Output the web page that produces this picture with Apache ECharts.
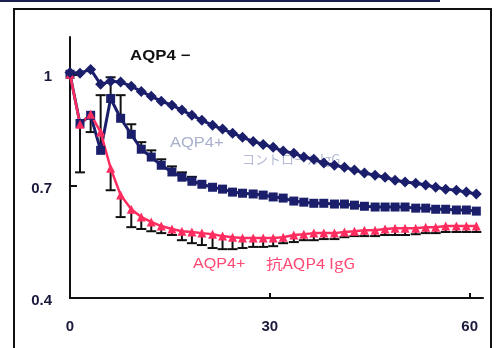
<!DOCTYPE html>
<html>
<head>
<meta charset="utf-8">
<script src="https://cdn.jsdelivr.net/npm/echarts@6/dist/echarts.min.js"></script>
<style>
  html, body { margin: 0; padding: 0; background: #fff; }
  #chart { width: 499px; height: 348px; }
</style>
</head>
<body>
<div id="chart"></div>
<script>
// time (min) of each measurement
const minutes = [0, 1.5, 3.1, 4.6, 6.1, 7.6, 9.2, 10.7, 12.2, 13.7, 15.3, 16.8, 18.3, 19.8, 21.4,
  22.9, 24.4, 25.9, 27.5, 29.0, 30.5, 32.0, 33.6, 35.1, 36.6, 38.1, 39.7, 41.2, 42.7, 44.2,
  45.8, 47.3, 48.8, 50.3, 51.9, 53.4, 54.9, 56.4, 58.0, 59.5, 61.0];

// AQP4-
const aqp4Neg = [1.005, 1.003, 1.013, 0.973, 0.981, 0.979, 0.968, 0.954, 0.941, 0.928, 0.917,
  0.904, 0.890, 0.877, 0.863, 0.853, 0.842, 0.831, 0.820, 0.812, 0.804, 0.794, 0.788, 0.778,
  0.772, 0.762, 0.756, 0.751, 0.743, 0.735, 0.729, 0.724, 0.716, 0.711, 0.708, 0.703, 0.697,
  0.692, 0.689, 0.684, 0.679];

// AQP4+ control IgG
const aqp4Ctrl = [1.0, 0.868, 0.890, 0.796, 0.935, 0.882, 0.839, 0.799, 0.778, 0.756, 0.738,
  0.724, 0.713, 0.705, 0.697, 0.692, 0.684, 0.681, 0.679, 0.676, 0.671, 0.668, 0.660, 0.657,
  0.654, 0.654, 0.652, 0.652, 0.649, 0.646, 0.644, 0.644, 0.644, 0.644, 0.641, 0.641, 0.638,
  0.638, 0.636, 0.636, 0.633];
const aqp4CtrlUpper = [null, null, null, 0.944, 0.992, 0.944, 0.866, 0.818, 0.796, 0.772, 0.753,
  0.737, 0.725, null, null, null, null, null, null, null, null, null, null, null, null, null,
  null, null, null, null, null, null, null, null, null, null, null, null, null, null, null];

// AQP4+ anti-AQP4 IgG
const aqp4Anti = [1.0, 0.866, 0.893, 0.845, 0.748, 0.676, 0.638, 0.617, 0.604, 0.593, 0.585,
  0.579, 0.577, 0.574, 0.571, 0.566, 0.563, 0.561, 0.561, 0.561, 0.561, 0.563, 0.569, 0.571,
  0.574, 0.574, 0.574, 0.577, 0.579, 0.582, 0.582, 0.585, 0.587, 0.587, 0.587, 0.590, 0.590,
  0.593, 0.593, 0.593, 0.593];
const aqp4AntiLower = [null, 0.737, 0.845, null, 0.689, 0.617, 0.590, 0.585, 0.579, 0.574, 0.569,
  0.555, 0.547, 0.542, 0.534, 0.531, 0.531, 0.534, 0.537, 0.537, 0.539, 0.547, 0.550, 0.555,
  0.555, 0.558, 0.558, 0.563, 0.566, 0.566, 0.566, 0.569, 0.569, 0.569, 0.571, 0.574, 0.574,
  0.577, 0.577, 0.577, 0.577];

const xLabels = [0, 30, 60];
const xTicks = [30, 60];
const yLabels = [0.4, 0.7, 1];
const yTicks = [0.7, 1];

const NAVY = "#1b1f6b";
const RED = "#ff2d5f";
const FONT = "Liberation Sans, Arial, sans-serif";

function pairs(values) {
  return values.map((v, i) => [minutes[i], v]);
}

function errorData(values, ends) {
  const out = [];
  ends.forEach((e, i) => {
    if (e != null) out.push([minutes[i], values[i], e]);
  });
  return out;
}

function renderError(params, api) {
  const top = api.coord([api.value(0), api.value(1)]);
  const end = api.coord([api.value(0), api.value(2)]);
  const half = 5;
  return {
    type: "group",
    children: [
      { type: "line", shape: { x1: top[0], y1: top[1], x2: end[0], y2: end[1] },
        style: { stroke: "#111", lineWidth: 2 } },
      { type: "line", shape: { x1: end[0] - half, y1: end[1], x2: end[0] + half, y2: end[1] },
        style: { stroke: "#111", lineWidth: 2 } },
    ],
  };
}

const chart = echarts.init(document.getElementById("chart"), null, { renderer: "canvas" });

chart.setOption({
  animation: false,
  backgroundColor: "#fff",
  grid: { left: 70, right: 16, top: 37, bottom: 50 },
  xAxis: {
    type: "value",
    min: 0,
    max: 62,
    axisLine: { lineStyle: { color: "#111", width: 2 } },
    axisTick: { inside: true, length: 5, customValues: xTicks, lineStyle: { color: "#111", width: 2 } },
    axisLabel: {
      customValues: xLabels,
      margin: 21,
      color: "#1a1a3c",
      fontFamily: FONT,
      fontWeight: "bold",
      fontSize: 15,
    },
    splitLine: { show: false },
  },
  yAxis: {
    type: "value",
    min: 0.4,
    max: 1.1,
    axisLine: { show: true, lineStyle: { color: "#111", width: 2 } },
    axisTick: { show: true, inside: true, length: 7, customValues: yTicks, lineStyle: { color: "#111", width: 2 } },
    axisLabel: {
      customValues: yLabels,
      margin: 18,
      color: "#1a1a3c",
      fontFamily: FONT,
      fontWeight: "bold",
      fontSize: 15,
      verticalAlign: "top",
      padding: [-5, 0, 0, 0],
    },
    splitLine: { show: false },
  },
  series: [
    {
      name: "ctrl err",
      type: "custom",
      renderItem: renderError,
      data: errorData(aqp4Ctrl, aqp4CtrlUpper),
      z: 1,
    },
    {
      name: "anti err",
      type: "custom",
      renderItem: renderError,
      data: errorData(aqp4Anti, aqp4AntiLower),
      z: 1,
    },
    {
      name: "AQP4- ",
      type: "line",
      data: pairs(aqp4Neg),
      symbol: "diamond",
      symbolSize: 11,
      itemStyle: { color: NAVY },
      lineStyle: { color: NAVY, width: 3 },
      z: 4,
    },
    {
      name: "AQP4+ control IgG",
      type: "line",
      data: pairs(aqp4Ctrl),
      symbol: "rect",
      symbolSize: 9,
      itemStyle: { color: NAVY },
      lineStyle: { color: NAVY, width: 3 },
      z: 3,
    },
    {
      name: "AQP4+ anti-AQP4 IgG",
      type: "line",
      data: pairs(aqp4Anti),
      symbol: "triangle",
      symbolSize: 9,
      itemStyle: { color: RED },
      lineStyle: { color: RED, width: 2.5 },
      z: 3,
    },
  ],
  graphic: [
    { type: "rect", shape: { x: 0, y: 0, width: 440, height: 2 }, style: { fill: "#1c2050" } },
    { type: "rect", shape: { x: 14, y: 9, width: 477, height: 345 },
      style: { fill: null, stroke: "#111", lineWidth: 2 } },
    { type: "text", x: 130, y: 49, scaleX: 1.2,
      style: { text: "AQP4 −", fill: "#111", font: "bold 14px " + FONT } },
    { type: "text", x: 170, y: 135, scaleX: 1.1,
      style: { text: "AQP4+", fill: "#a8b0cc", font: "15px " + FONT } },
    { type: "text", x: 242, y: 153,
      style: { text: "コントロールIgG", fill: "#b4bcd6", font: "13px 'Noto Sans CJK JP', " + FONT } },
    { type: "text", x: 193, y: 257, scaleX: 1.15,
      style: { text: "AQP4+", fill: "#ff4a75", font: "14px " + FONT } },
    { type: "text", x: 266, y: 257, scaleX: 1.2,
      style: { text: "抗AQP4 IgG", fill: "#ff4a75", font: "14px 'Noto Sans CJK JP', " + FONT } },
  ],
});
</script>
</body>
</html>
